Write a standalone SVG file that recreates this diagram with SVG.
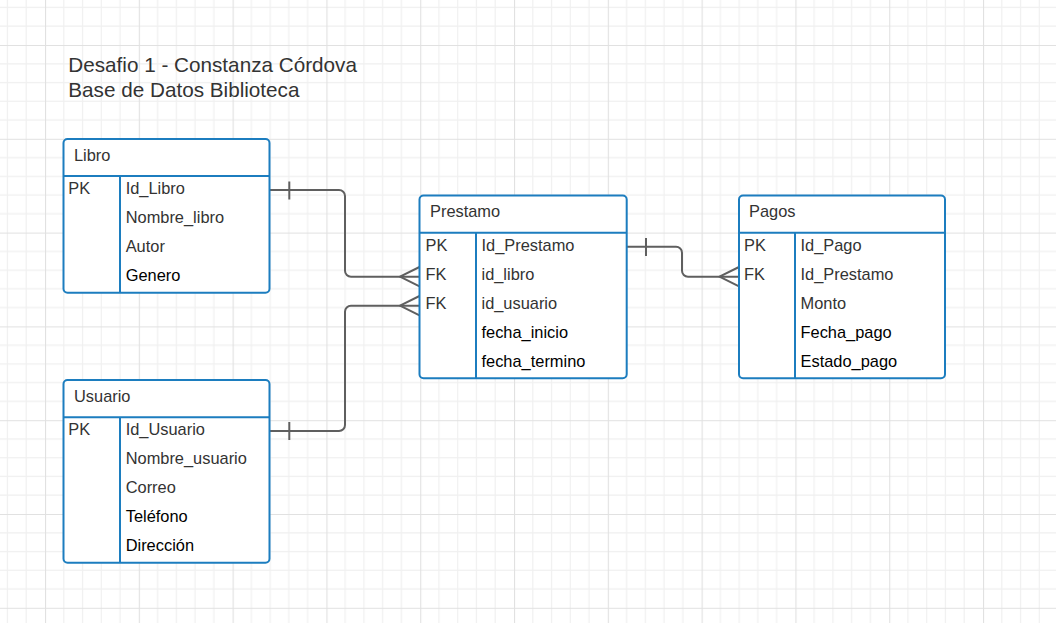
<svg xmlns="http://www.w3.org/2000/svg" width="1056" height="623" viewBox="0 0 1056 623">
<style>
.t{font-family:"Liberation Sans",Arial,sans-serif;font-size:16.4px;fill:#333}
.k{fill:#000}
.ti{font-family:"Liberation Sans",Arial,sans-serif;font-size:20.7px;fill:#333}
.box{fill:#fff;stroke:#1c7dbf;stroke-width:2}
.div{stroke:#1c7dbf;stroke-width:2;fill:none}
.c{fill:none;stroke:#5f5f5f;stroke-width:2;stroke-linejoin:round}
</style>
<defs>
<pattern id="grid" patternUnits="userSpaceOnUse" x="45" y="45" width="93.8" height="93.8">
<path d="M18.76 0V93.8M37.52 0V93.8M56.28 0V93.8M75.04 0V93.8M0 18.76H93.8M0 37.52H93.8M0 56.28H93.8M0 75.04H93.8" stroke="#f0f0f0" stroke-width="1.2" fill="none"/>
<path d="M0.5 0V93.8M0 0.5H93.8" stroke="#e1e1e1" stroke-width="1.2" fill="none"/>
</pattern>
</defs>
<rect width="1056" height="623" fill="#fff"/>
<rect width="1056" height="623" fill="url(#grid)"/>

<g id="title">
<text class="ti" x="68.3" y="71.7">Desafio 1 - Constanza Córdova</text>
<text class="ti" x="68.3" y="96.7">Base de Datos Biblioteca</text>
</g>

<g id="connectors">
<path class="c" d="M269.5 190H339a6 6 0 0 1 6 6V270.7a6 6 0 0 0 6 6H419.5"/>
<path class="c" d="M289.3 181.5V199.5"/>
<path class="c" d="M419.5 267L400 276.7L419.5 286.4"/>
<path class="c" d="M269.5 431H339a6 6 0 0 0 6 -6V311.7a6 6 0 0 1 6 -6H419.5"/>
<path class="c" d="M289.3 422V440"/>
<path class="c" d="M419.5 296L400 305.7L419.5 315.4"/>
<path class="c" d="M626.7 246.7H676a6 6 0 0 1 6 6V270.7a6 6 0 0 0 6 6H739"/>
<path class="c" d="M646 238V256"/>
<path class="c" d="M739 267L719.5 276.7L739 286.4"/>
</g>

<g id="libro">
<rect class="box" x="63.5" y="139" width="206" height="153.7" rx="4"/>
<path class="div" d="M63.5 176H269.5M120 176V292.7"/>
<text class="t" x="74" y="160.7">Libro</text>
<text class="t" x="68.3" y="194">PK</text>
<text class="t" x="125.7" y="194">Id_Libro</text>
<text class="t" x="125.7" y="223">Nombre_libro</text>
<text class="t" x="125.7" y="252">Autor</text>
<text class="t k" x="125.7" y="281">Genero</text>
</g>

<g id="usuario">
<rect class="box" x="63.5" y="380" width="206" height="182.7" rx="4"/>
<path class="div" d="M63.5 417.3H269.5M120 417.3V562.7"/>
<text class="t" x="74" y="401.7">Usuario</text>
<text class="t" x="68.3" y="435">PK</text>
<text class="t" x="125.7" y="435">Id_Usuario</text>
<text class="t" x="125.7" y="464">Nombre_usuario</text>
<text class="t" x="125.7" y="493">Correo</text>
<text class="t k" x="125.7" y="522">Teléfono</text>
<text class="t k" x="125.7" y="551">Dirección</text>
</g>

<g id="prestamo">
<rect class="box" x="419.5" y="195.5" width="207.2" height="182.8" rx="4"/>
<path class="div" d="M419.5 232.7H626.7M476 232.7V378.3"/>
<text class="t" x="430" y="217">Prestamo</text>
<text class="t" x="425.5" y="251">PK</text>
<text class="t" x="481.5" y="251">Id_Prestamo</text>
<text class="t" x="425.5" y="280">FK</text>
<text class="t" x="481.5" y="280">id_libro</text>
<text class="t" x="425.5" y="309">FK</text>
<text class="t" x="481.5" y="309">id_usuario</text>
<text class="t k" x="481.5" y="338">fecha_inicio</text>
<text class="t k" x="481.5" y="367">fecha_termino</text>
</g>

<g id="pagos">
<rect class="box" x="739" y="195.5" width="206" height="182.8" rx="4"/>
<path class="div" d="M739 232.7H945M795 232.7V378.3"/>
<text class="t" x="749" y="217">Pagos</text>
<text class="t" x="744" y="251">PK</text>
<text class="t" x="800.5" y="251">Id_Pago</text>
<text class="t" x="744" y="280">FK</text>
<text class="t" x="800.5" y="280">Id_Prestamo</text>
<text class="t" x="800.5" y="309">Monto</text>
<text class="t k" x="800.5" y="338">Fecha_pago</text>
<text class="t k" x="800.5" y="367">Estado_pago</text>
</g>
</svg>
